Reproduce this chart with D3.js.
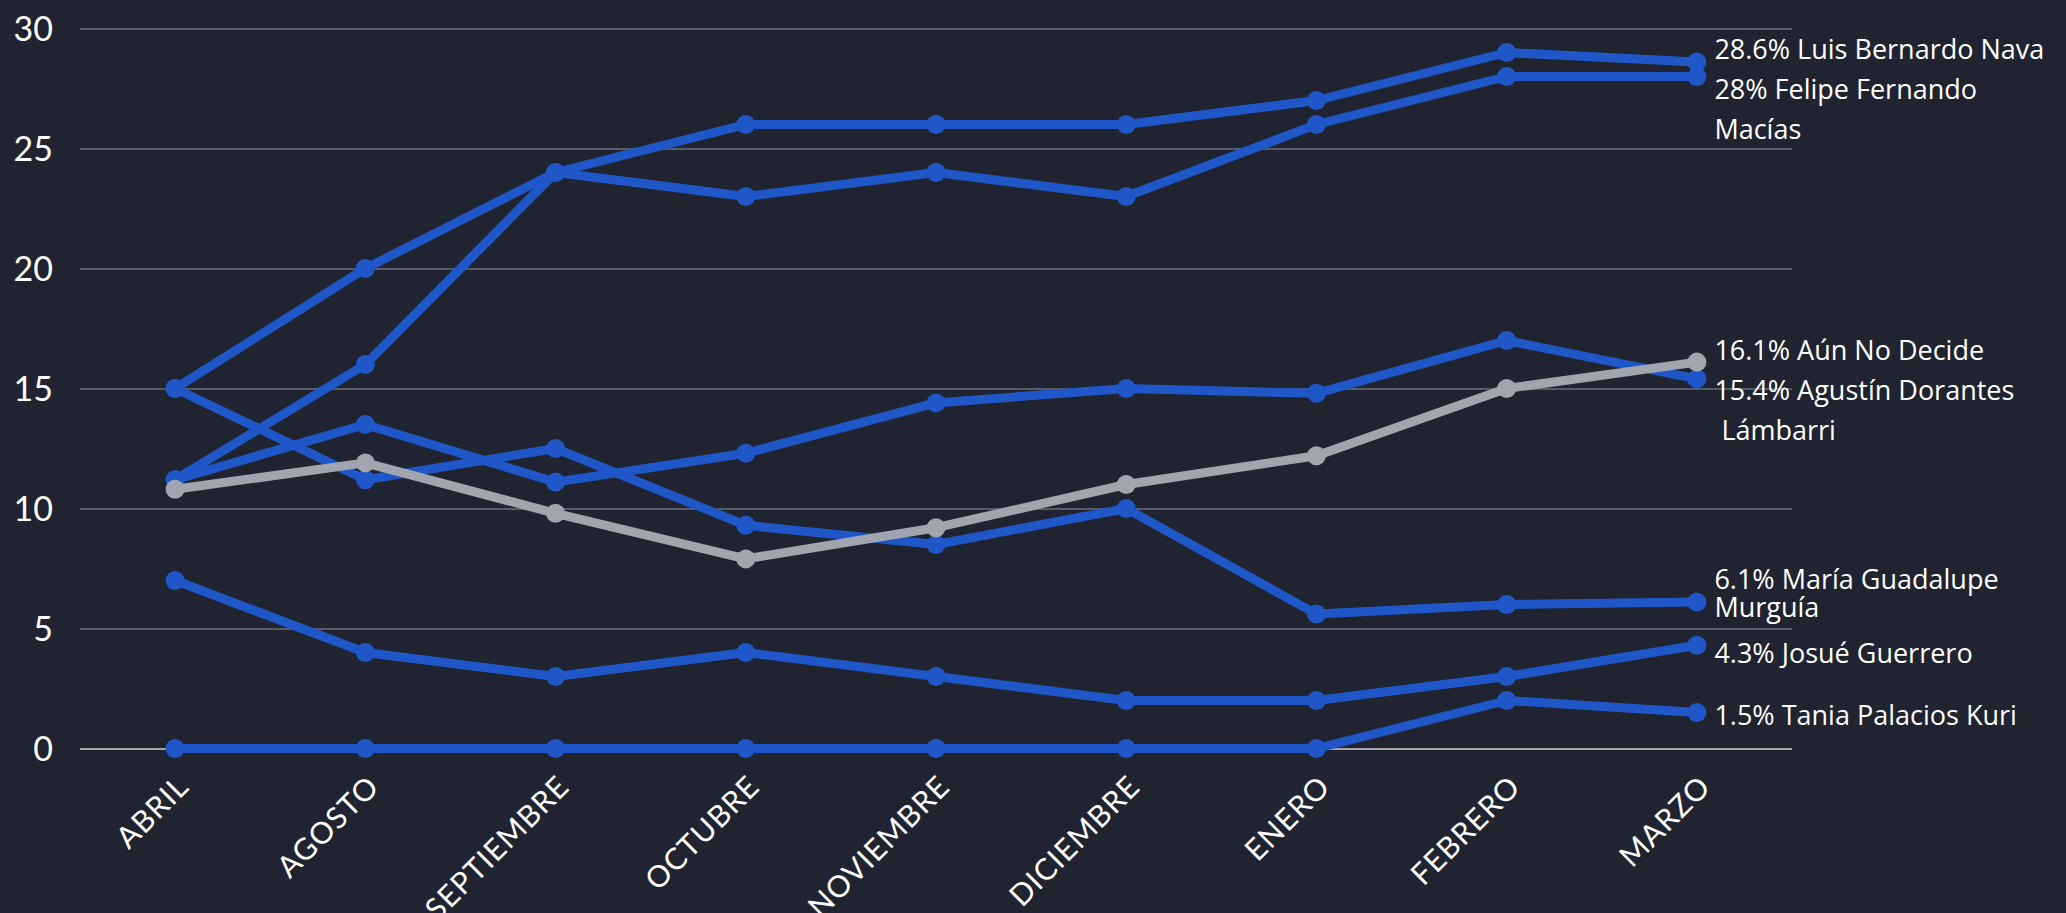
<!DOCTYPE html>
<html>
<head>
<meta charset="utf-8">
<script src="https://cdn.jsdelivr.net/npm/d3@7"></script>
<style>
  html, body { margin: 0; padding: 0; background: #202330; }
  svg { display: block; }
</style>
</head>
<body>
<svg id="chart" width="2066" height="913"></svg>
<script>
// ---- Data ----
const months = ["ABRIL", "AGOSTO", "SEPTIEMBRE", "OCTUBRE", "NOVIEMBRE", "DICIEMBRE", "ENERO", "FEBRERO", "MARZO"];
const yTicks = [0, 5, 10, 15, 20, 25, 30];

const luisValues    = [15, 20, 24, 26, 26, 26, 27, 29, 28.6];
const felipeValues  = [11.2, 16, 24, 23, 24, 23, 26, 28, 28];
const agustinValues = [11.2, 13.5, 11.1, 12.3, 14.4, 15, 14.8, 17, 15.4];
const mariaValues   = [15, 11.2, 12.5, 9.3, 8.5, 10, 5.6, 6, 6.1];
const josueValues   = [7, 4, 3, 4, 3, 2, 2, 3, 4.3];
const taniaValues   = [0, 0, 0, 0, 0, 0, 0, 2, 1.5];
const aunValues     = [10.8, 11.9, 9.8, 7.9, 9.2, 11, 12.2, 15, 16.1];

const seriesNames = ["luis", "felipe", "agustin", "maria", "josue", "tania", "aun"];
const seriesValues = [luisValues, felipeValues, agustinValues, mariaValues, josueValues, taniaValues, aunValues];
const seriesLabels = [
  ["28.6% Luis Bernardo Nava"],
  ["28% Felipe Fernando", "Macías"],
  ["15.4% Agustín Dorantes", " Lámbarri"],
  ["6.1% María Guadalupe", "Murguía"],
  ["4.3% Josué Guerrero"],
  ["1.5% Tania Palacios Kuri"],
  ["16.1% Aún No Decide"]
];

// ---- Styles ----
const BLUE = "#1f57c9";
const GRAY = "#a0a5af";
const seriesColors = [BLUE, BLUE, BLUE, BLUE, BLUE, BLUE, GRAY];
const labelLineHeights = [40, 40, 40, 28, 40, 40, 40];

const svg = d3.select("#chart");
const plotLeft = 80, plotRight = 1792, plotTop = 28.5, plotBottom = 748.5;

const x = d3.scalePoint().domain(months).range([plotLeft, plotRight]).padding(0.5);
const y = d3.scaleLinear().domain([0, 30]).range([plotBottom, plotTop]);

// Gridlines
const yAxis = d3.axisLeft(y).tickValues(yTicks).tickSize(-(plotRight - plotLeft)).tickPadding(27);
const gy = svg.append("g").attr("transform", `translate(${plotLeft},0)`).call(yAxis);
gy.select(".domain").remove();
gy.selectAll(".tick line")
  .attr("stroke", d => d === 0 ? "#a3a3aa" : "#575b67")
  .attr("stroke-width", 2);
gy.selectAll(".tick text")
  .attr("fill", "#ffffff")
  .attr("font-family", "Lato, sans-serif")
  .attr("font-size", 34)
  .attr("dy", "0.36em");

// X axis labels
const xAxis = d3.axisBottom(x).tickSize(0).tickPadding(0);
const gx = svg.append("g").attr("transform", `translate(0,${plotBottom})`).call(xAxis);
gx.select(".domain").remove();
gx.selectAll(".tick text")
  .attr("fill", "#ffffff")
  .attr("font-family", "Lato, sans-serif")
  .attr("font-size", 30)
  .attr("letter-spacing", 1)
  .attr("text-anchor", "end")
  .attr("dy", 0)
  .attr("y", 0)
  .attr("transform", "translate(15,40) rotate(-45)");

// Lines
const line = d3.line().x((d, i) => x(months[i])).y(d => y(d));
const gLines = svg.append("g");
seriesValues.forEach((vals, si) => {
  const g = gLines.append("g");
  g.append("path")
    .datum(vals)
    .attr("d", line)
    .attr("fill", "none")
    .attr("stroke", seriesColors[si])
    .attr("stroke-width", 9)
    .attr("stroke-linejoin", "round");
  g.selectAll("circle")
    .data(vals)
    .join("circle")
    .attr("cx", (d, i) => x(months[i]))
    .attr("cy", d => y(d))
    .attr("r", 9.5)
    .attr("fill", seriesColors[si]);
});

// End labels with simple collision avoidance
const lastIdx = months.length - 1;
let labels = seriesNames.map((n, i) => ({
  i,
  lines: seriesLabels[i],
  lh: labelLineHeights[i],
  h: seriesLabels[i].length * 40,
  c: y(seriesValues[i][lastIdx])
}));
labels.sort((a, b) => a.c - b.c);
for (let iter = 0; iter < 20; iter++) {
  for (let k = 0; k < labels.length - 1; k++) {
    const a = labels[k], b = labels[k + 1];
    const overlap = (a.c + a.h / 2) - (b.c - b.h / 2);
    if (overlap > 0.01) {
      const tot = a.h + b.h;
      a.c -= overlap * a.h / tot;
      b.c += overlap * b.h / tot;
    }
  }
}
const gLab = svg.append("g")
  .attr("font-family", "'Open Sans', 'Noto Sans', sans-serif")
  .attr("font-size", 27)
  .attr("fill", "#ffffff");
const labelX = x(months[lastIdx]) + 17.5;
labels.forEach(l => {
  const n = l.lines.length;
  const first = l.c - (n - 1) * l.lh / 2 + 12.5;
  const t = gLab.append("text")
    .attr("x", labelX)
    .attr("y", first)
    .style("white-space", "pre");
  l.lines.forEach((s, j) => {
    t.append("tspan")
      .attr("x", labelX)
      .attr("y", first + j * l.lh)
      .text(s);
  });
});
</script>
</body>
</html>
